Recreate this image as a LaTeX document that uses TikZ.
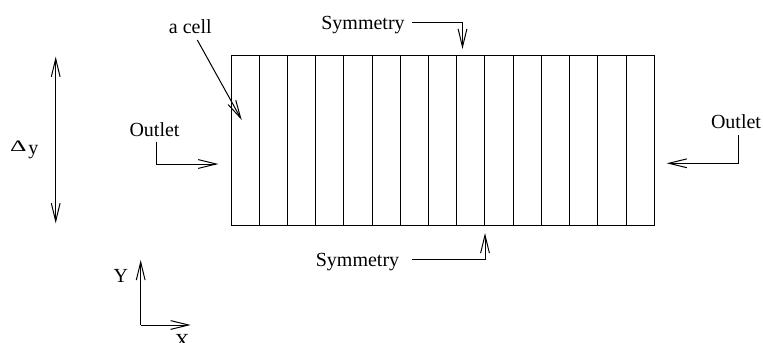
\documentclass[tikz,border=0pt]{standalone}
\usepackage{fontspec}
\setmainfont{Liberation Serif}
\usetikzlibrary{arrows.meta}
\begin{document}
\begin{tikzpicture}[x=0.5pt,y=-0.5pt,line width=0.5pt,
  arr/.style={-{Straight Barb[length=9pt,width=4.4pt]}},
  darr/.style={{Straight Barb[length=9pt,width=4.4pt]}-{Straight Barb[length=9pt,width=4.4pt]}},
  lbl/.style={inner sep=0pt,anchor=base,font=\fontsize{10}{12}\selectfont}]
\useasboundingbox (0,0) rectangle (763,342);
% grid of cells
\draw (231,56) rectangle (654.3,225.7);
\foreach \i in {1,...,14} \draw ({231+\i*28.22},56) -- ({231+\i*28.22},225.7);
% labels
\node[lbl] (symtop) at (363,29.3) {Symmetry};
\node[lbl] (symbot) at (357.5,266) {Symmetry};
\node[lbl] (outl) at (154.5,136) {Outlet};
\node[lbl] (outr) at (736,128.3) {Outlet};
\node[lbl] (cell) at (190.3,33.3) {a cell};
\node[lbl,font=\fontsize{8}{10}\selectfont] (delta) at (18.3,151.7) {\scalebox{1.6}[1]{Δ}};
\node[lbl] (dy) at (33.3,154) {y};
\node[lbl] (ylab) at (120.8,282.3) {Y};
\node[lbl] (xlab) at (182,347.5) {X};
% coordinates
\coordinate (st1) at (411.7,22.7);
\coordinate (st2) at (462.5,22.7);
\coordinate (st3) at (462.5,49);
\coordinate (sb1) at (411.7,259.5);
\coordinate (sb2) at (485,259.5);
\coordinate (sb3) at (485,233);
\coordinate (ol1) at (156.7,141.7);
\coordinate (ol2) at (156.7,164);
\coordinate (ol3) at (218.3,164);
\coordinate (or1) at (738.3,135);
\coordinate (or2) at (738.3,163.3);
\coordinate (or3) at (666.7,163.3);
\coordinate (c1) at (197.3,40);
\coordinate (c2) at (241.7,120);
\coordinate (d1) at (55.7,56.7);
\coordinate (d2) at (55.7,223.3);
\coordinate (o) at (140.7,325);
\coordinate (yt) at (140.7,260);
\coordinate (xt) at (190.7,325);
% connectors
\draw[arr] (st1) -- (st2) -- (st3);
\draw[arr] (sb1) -- (sb2) -- (sb3);
\draw[arr] (ol1) -- (ol2) -- (ol3);
\draw[arr] (or1) -- (or2) -- (or3);
\draw[arr] (c1) -- (c2);
\draw[darr] (d1) -- (d2);
\draw[arr] (o) -- (yt);
\draw[arr] (o) -- (xt);
\end{tikzpicture}
\end{document}
